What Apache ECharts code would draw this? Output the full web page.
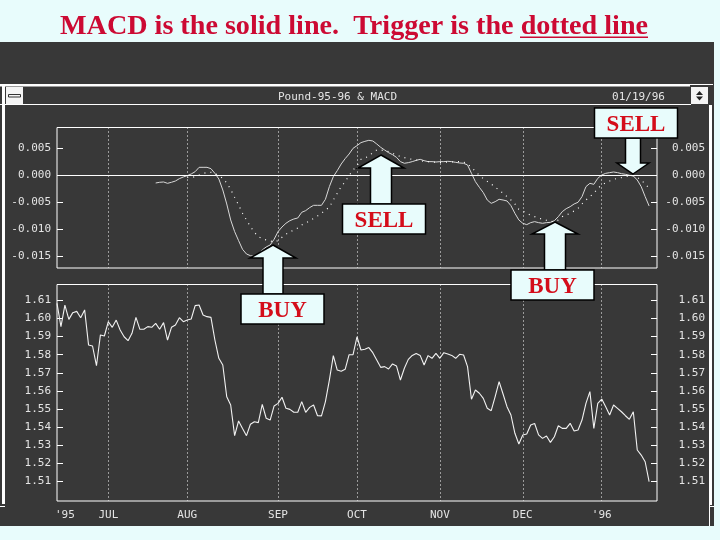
<!DOCTYPE html>
<html>
<head>
<meta charset="utf-8">
<title>MACD</title>
<script src="https://cdn.jsdelivr.net/npm/echarts@6/dist/echarts.min.js"></script>
<style>
	html, body { margin: 0; padding: 0; background: #e8fcfc; }
	#chart { width: 720px; height: 540px; }
</style>
</head>
<body>
<div id="chart"></div>
<script>
// month labels and the trading day they sit on
var monthLabels = ["'95", 'JUL', 'AUG', 'SEP', 'OCT', 'NOV', 'DEC', "'96"];
var monthDays = [2, 13, 33, 56, 76, 97, 118, 138];
var dayCount = 153;

var macdTicks = [0.005, 0, -0.005, -0.01, -0.015];
var priceTicks = [1.61, 1.60, 1.59, 1.58, 1.57, 1.56, 1.55, 1.54, 1.53, 1.52, 1.51];

// pound, every trading day
var price = [
	1.6083, 1.5955, 1.6074, 1.5995, 1.6032, 1.6039, 1.6004, 1.6047, 1.5853, 1.5848,
	1.5739, 1.5909, 1.5903, 1.5982, 1.5951, 1.5991, 1.5936, 1.5899, 1.5877, 1.5918,
	1.6006, 1.5940, 1.5940, 1.5955, 1.5951, 1.5973, 1.5940, 1.5977, 1.5881, 1.5951,
	1.5964, 1.6004, 1.5982, 1.5991, 1.5997, 1.6071, 1.6074, 1.6019, 1.6010, 1.6006,
	1.5881, 1.5780, 1.5743, 1.5568, 1.5522, 1.5353, 1.5434, 1.5393, 1.5353, 1.5416,
	1.5430, 1.5425, 1.5526, 1.5449, 1.5439, 1.5517, 1.5531, 1.5565, 1.5504, 1.5498,
	1.5482, 1.5482, 1.5541, 1.5482, 1.5509, 1.5522, 1.5463, 1.5462, 1.5541, 1.5660,
	1.5795, 1.5715, 1.5708, 1.5719, 1.5800, 1.5800, 1.5899, 1.5826, 1.5830, 1.5839,
	1.5811, 1.5771, 1.5730, 1.5734, 1.5721, 1.5749, 1.5738, 1.5660, 1.5725, 1.5774,
	1.5796, 1.5807, 1.5796, 1.5743, 1.5795, 1.5780, 1.5807, 1.5780, 1.5811, 1.5804,
	1.5796, 1.5780, 1.5802, 1.5798, 1.5734, 1.5554, 1.5605, 1.5587, 1.5559, 1.5504,
	1.5491, 1.5568, 1.5651, 1.5583, 1.5513, 1.5467, 1.5366, 1.5307, 1.5357, 1.5362,
	1.5412, 1.5420, 1.5357, 1.5338, 1.5351, 1.5316, 1.5347, 1.5408, 1.5393, 1.5393,
	1.5421, 1.5379, 1.5384, 1.5439, 1.5531, 1.5596, 1.5393, 1.5531, 1.5555, 1.5513,
	1.5467, 1.5522, 1.5504, 1.5485, 1.5463, 1.5443, 1.5485, 1.5274, 1.5246, 1.5209,
	1.5099
];

// macd starts later than the price
var macdStart = 25;
var macd = [
	-0.00143, -0.00130, -0.00124, -0.00149, -0.00130, -0.00106, -0.00062, -0.00031, -0.00006, 0.00025,
	0.00068, 0.00149, 0.00149, 0.00149, 0.00124, 0.00037, -0.00068, -0.00273, -0.00534, -0.00832,
	-0.01049, -0.01217, -0.01379, -0.01466, -0.01497, -0.01509, -0.01484, -0.01391, -0.01335, -0.01298,
	-0.01192, -0.01049, -0.00963, -0.00894, -0.00845, -0.00814, -0.00795, -0.00689, -0.00658, -0.00602,
	-0.00559, -0.00559, -0.00559, -0.00447, -0.00211, -0.00025, 0.00087, 0.00211, 0.00311, 0.00397,
	0.00503, 0.00553, 0.00609, 0.00633, 0.00652, 0.00640, 0.00584, 0.00522, 0.00472, 0.00422,
	0.00385, 0.00335, 0.00255, 0.00224, 0.00236, 0.00255, 0.00279, 0.00298, 0.00273, 0.00255,
	0.00255, 0.00248, 0.00255, 0.00255, 0.00261, 0.00255, 0.00242, 0.00230, 0.00224, 0.00193,
	0.00037, -0.00118, -0.00224, -0.00323, -0.00460, -0.00522, -0.00491, -0.00447, -0.00460, -0.00478,
	-0.00565, -0.00708, -0.00832, -0.00894, -0.00919, -0.00882, -0.00863, -0.00882, -0.00894, -0.00882,
	-0.00876, -0.00845, -0.00770, -0.00677, -0.00621, -0.00584, -0.00534, -0.00503, -0.00397, -0.00211,
	-0.00149, -0.00168, -0.00056, 0.00006, 0.00037, 0.00050, 0.00062, 0.00050, 0.00031, 0.00019,
	0, -0.00012, -0.00087, -0.00211, -0.00397, -0.00571
];

var triggerStart = 33;
var trigger = [
	-0.00037, -0.00043, -0.00025, 0.00006, 0.00037, 0.00050, 0.00056, 0.00037, -0.00006, -0.00056,
	-0.00143, -0.00261, -0.00410, -0.00553, -0.00708, -0.00832, -0.00956, -0.01062, -0.01143, -0.01180,
	-0.01205, -0.01223, -0.01242, -0.01217, -0.01155, -0.01099, -0.01056, -0.01018, -0.00981, -0.00925,
	-0.00888, -0.00851, -0.00801, -0.00758, -0.00708, -0.00646, -0.00596, -0.00460, -0.00335, -0.00211,
	-0.00118, -0.00006, 0.00099, 0.00180, 0.00298, 0.00323, 0.00360, 0.00422, 0.00472, 0.00472,
	0.00460, 0.00441, 0.00410, 0.00379, 0.00348, 0.00329, 0.00311, 0.00298, 0.00286, 0.00273,
	0.00261, 0.00255, 0.00248, 0.00242, 0.00242, 0.00242, 0.00248, 0.00248, 0.00255, 0.00255,
	0.00248, 0.00211, 0.00149, 0.00075, 0, -0.00062, -0.00112, -0.00161, -0.00224, -0.00273,
	-0.00335, -0.00397, -0.00460, -0.00534, -0.00633, -0.00664, -0.00708, -0.00745, -0.00770, -0.00795,
	-0.00820, -0.00838, -0.00857, -0.00863, -0.00832, -0.00770, -0.00739, -0.00708, -0.00664, -0.00615,
	-0.00534, -0.00460, -0.00397, -0.00335, -0.00242, -0.00180, -0.00137, -0.00106, -0.00075, -0.00056,
	-0.00043, -0.00025, -0.00012, -0.00006, -0.00037, -0.00087, -0.00161, -0.00242
];

var PANEL = '#383838';
var PALE = '#e8fcfc';
var RED = '#d40d1a';
var MONO = '"DejaVu Sans Mono", monospace';

// category axis: blank days except the month labels
var days = [];
for (var i = 0; i < dayCount; i++) {
	var at = monthDays.indexOf(i);
	days.push(at >= 0 ? monthLabels[at] : '');
}

// pad the later series so they line up with the days
function pad(start, values) {
	var out = [];
	for (var i = 0; i < start; i++) {
		out.push(null);
	}
	return out.concat(values);
}

// vertical dotted lines, not on the '95 label
function monthLine(index, value) {
	return value !== '' && value !== "'95";
}

function xAxis(gridIndex, showLabel) {
	return {
		type: 'category',
		gridIndex: gridIndex,
		data: days,
		boundaryGap: false,
		axisLine: { show: false },
		axisTick: { show: false },
		axisLabel: {
			show: showLabel,
			interval: function (index, value) { return value !== ''; },
			color: '#e4e4e4',
			fontFamily: MONO,
			fontSize: 11,
			margin: 9
		},
		splitLine: {
			show: true,
			interval: monthLine,
			lineStyle: { color: '#ffffff', width: 1, type: [1, 3] }
		}
	};
}

function yAxis(gridIndex, side, min, max, ticks, digits) {
	return {
		type: 'value',
		gridIndex: gridIndex,
		position: side,
		min: min,
		max: max,
		scale: true,
		axisLine: { show: false },
		axisTick: {
			show: true,
			inside: true,
			length: 6,
			customValues: ticks,
			lineStyle: { color: '#ffffff', width: 1 }
		},
		axisLabel: {
			customValues: ticks,
			color: '#e4e4e4',
			fontFamily: MONO,
			fontSize: 11,
			align: 'right',
			margin: side === 'left' ? 6 : 48,
			formatter: function (v) { return v.toFixed(digits); }
		},
		splitLine: { show: false }
	};
}

// window frame behind the charts
var frame = [
	{ type: 'rect', z: -2, shape: { x: 0, y: 42, width: 714, height: 484 }, style: { fill: PANEL } },
	{ type: 'rect', z: -1, shape: { x: 2, y: 84, width: 3, height: 420 }, style: { fill: '#ffffff' } },
	{ type: 'rect', z: -1, shape: { x: 0, y: 84, width: 690, height: 2.5 }, style: { fill: '#ffffff' } },
	{ type: 'rect', z: -1, shape: { x: 690, y: 84, width: 23, height: 1 }, style: { fill: '#ffffff' } },
	{ type: 'rect', z: -1, shape: { x: 0, y: 104, width: 691, height: 1 }, style: { fill: '#ffffff' } },
	{ type: 'rect', z: -1, shape: { x: 709, y: 105, width: 3, height: 400 }, style: { fill: '#ffffff' } },
	{ type: 'rect', z: -1, shape: { x: 709, y: 505, width: 1, height: 21 }, style: { fill: '#ffffff' } },
	{ type: 'rect', z: -1, shape: { x: 709, y: 506, width: 5, height: 1 }, style: { fill: '#ffffff' } },
	{ type: 'rect', z: -1, shape: { x: 0, y: 506, width: 5, height: 1 }, style: { fill: '#ffffff' } },
	// window buttons
	{ type: 'rect', z: -1, shape: { x: 6, y: 87, width: 17, height: 17 }, style: { fill: '#f4f4f4' } },
	{ type: 'rect', z: -1, shape: { x: 8.5, y: 94.5, width: 12, height: 2.5 }, style: { fill: '#f4f4f4', stroke: '#333333', lineWidth: 1 } },
	{ type: 'rect', z: -1, shape: { x: 691, y: 87, width: 17, height: 17 }, style: { fill: '#f4f4f4' } },
	{ type: 'polygon', z: -1, shape: { points: [[699.5, 91], [703, 95], [696, 95]] }, style: { fill: '#222222' } },
	{ type: 'polygon', z: -1, shape: { points: [[699.5, 100.5], [703, 96.5], [696, 96.5]] }, style: { fill: '#222222' } },
	// window caption
	{ type: 'text', z: 1, style: { x: 337.5, y: 97, text: 'Pound-95-96 & MACD', fill: '#e4e4e4', font: '11px ' + MONO, textAlign: 'center', textVerticalAlign: 'middle' } },
	{ type: 'text', z: 1, style: { x: 638.5, y: 97, text: '01/19/96', fill: '#e4e4e4', font: '11px ' + MONO, textAlign: 'center', textVerticalAlign: 'middle' } },
	// underline of "dotted line"
	{ type: 'rect', z: 1, shape: { x: 520, y: 36.5, width: 128, height: 1.5 }, style: { fill: '#cc0a33' } }
];

// callout box with its label
function callout(x, y, text) {
	return [
		{ type: 'rect', z: 20, shape: { x: x, y: y, width: 83, height: 30 }, style: { fill: PALE, stroke: '#000000', lineWidth: 1.5 } },
		{ type: 'text', z: 21, style: { x: x + 41.5, y: y + 17, text: text, fill: RED, font: 'bold 23px "Liberation Serif", serif', textAlign: 'center', textVerticalAlign: 'middle' } }
	];
}

// arrow pointing up to a tip, shaft running down to bottom
function arrowUp(tipX, tipY, headY, headHalf, shaftHalf, bottom) {
	return {
		type: 'polygon', z: 15,
		shape: { points: [
			[tipX, tipY], [tipX + headHalf, headY], [tipX + shaftHalf, headY], [tipX + shaftHalf, bottom],
			[tipX - shaftHalf, bottom], [tipX - shaftHalf, headY], [tipX - headHalf, headY]
		] },
		style: { fill: PALE, stroke: '#000000', lineWidth: 1.5 }
	};
}

var notes = [
	arrowUp(273, 245, 258, 23, 10, 294),
	arrowUp(381, 155, 168, 23, 10.5, 204),
	arrowUp(555, 222, 234, 23, 10.5, 270),
	arrowUp(633, 174, 163, 16, 7.5, 138)
].concat(callout(241, 294, 'BUY'), callout(342.5, 204, 'SELL'), callout(511, 270, 'BUY'), callout(594.5, 108, 'SELL'));

var myChart = echarts.init(document.getElementById('chart'));

var option = {
	animation: false,
	backgroundColor: PALE,
	title: {
		text: 'MACD is the solid line.  Trigger is the dotted line',
		left: 60,
		top: 10,
		padding: 0,
		textStyle: { color: '#cc0a33', fontFamily: '"Liberation Serif", serif', fontWeight: 'bold', fontSize: 28.15, lineHeight: 34 }
	},
	grid: [
		{ left: 57, right: 63, top: 127.5, height: 140.5, show: true, borderColor: '#ffffff', borderWidth: 1, backgroundColor: 'transparent' },
		{ left: 57, right: 63, top: 284.5, height: 216.5, show: true, borderColor: '#ffffff', borderWidth: 1, backgroundColor: 'transparent' }
	],
	xAxis: [xAxis(0, false), xAxis(1, true)],
	yAxis: [
		yAxis(0, 'left', -0.01727, 0.00891, macdTicks, 3),
		yAxis(0, 'right', -0.01727, 0.00891, macdTicks, 3),
		yAxis(1, 'left', 1.49923, 1.61874, priceTicks, 2),
		yAxis(1, 'right', 1.49923, 1.61874, priceTicks, 2)
	],
	series: [
		{
			name: 'MACD',
			type: 'line',
			xAxisIndex: 0,
			yAxisIndex: 0,
			data: pad(macdStart, macd),
			showSymbol: false,
			lineStyle: { color: '#d8d8d8', width: 1 },
			markLine: {
				silent: true,
				symbol: 'none',
				label: { show: false },
				lineStyle: { color: '#ffffff', width: 1, type: 'solid' },
				data: [{ yAxis: 0 }]
			}
		},
		{
			name: 'Trigger',
			type: 'line',
			xAxisIndex: 0,
			yAxisIndex: 0,
			data: pad(triggerStart, trigger),
			showSymbol: false,
			lineStyle: { color: '#ffffff', width: 1.2, type: [1, 5] }
		},
		{
			name: 'Pound',
			type: 'line',
			xAxisIndex: 1,
			yAxisIndex: 2,
			data: price,
			showSymbol: false,
			lineStyle: { color: '#f2f2f2', width: 1.1 }
		}
	],
	graphic: frame.concat(notes)
};

myChart.setOption(option);
</script>
</body>
</html>
